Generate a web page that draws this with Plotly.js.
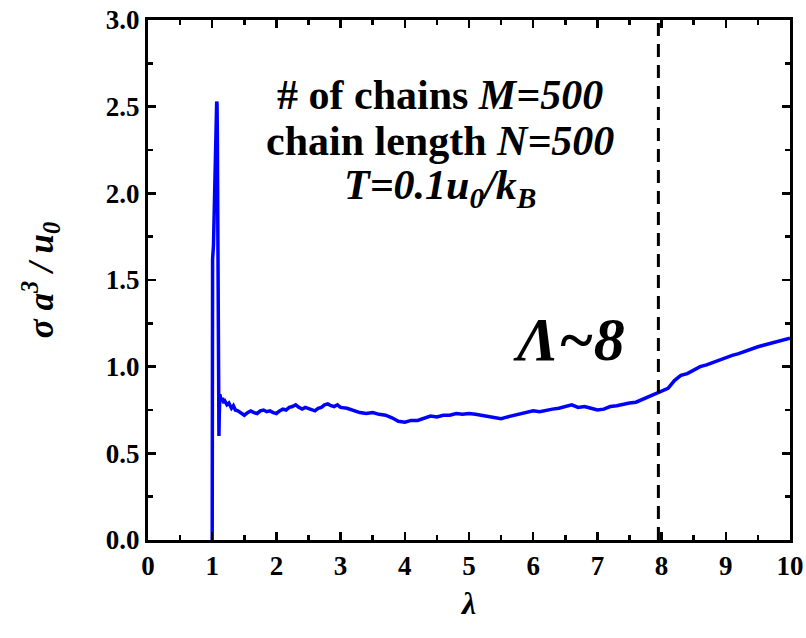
<!DOCTYPE html>
<html>
<head>
<meta charset="utf-8">
<script src="https://cdn.plot.ly/plotly-3.0.1.min.js"></script>
<style>html,body{margin:0;padding:0;background:#fff;}#chart{width:806px;height:638px;}</style>
</head>
<body>
<div id="chart"></div>
<script>
// lambda values (x) and sigma a^3/u0 values (y)
const lambda = [
  1.00, 1.003, 1.006, 1.02, 1.04, 1.06, 1.07, 1.075, 1.08, 1.085, 1.09, 1.095, 1.10, 1.105, 1.11, 1.12,
  1.14, 1.16, 1.18, 1.20, 1.23, 1.26, 1.30, 1.33, 1.36, 1.40, 1.45, 1.50, 1.55, 1.60, 1.65, 1.70,
  1.75, 1.80, 1.85, 1.90, 1.95, 2.00, 2.05, 2.10, 2.15, 2.20, 2.25, 2.30, 2.35, 2.40, 2.45, 2.50,
  2.55, 2.60, 2.65, 2.70, 2.75, 2.80, 2.85, 2.90, 2.95, 3.00, 3.1, 3.2, 3.3, 3.4, 3.5, 3.6, 3.7,
  3.8, 3.9, 4.0, 4.1, 4.2, 4.3, 4.4, 4.5, 4.6, 4.7, 4.8, 4.9, 5.0, 5.1, 5.2, 5.3, 5.4, 5.5, 5.6,
  5.7, 5.8, 5.9, 6.0, 6.1, 6.2, 6.3, 6.4, 6.5, 6.6, 6.7, 6.8, 6.9, 7.0, 7.1, 7.2, 7.3, 7.4, 7.5,
  7.6, 7.7, 7.8, 7.9, 8.0, 8.1, 8.2, 8.3, 8.4, 8.5, 8.6, 8.7, 8.8, 8.9, 9.0, 9.1, 9.2, 9.3, 9.4,
  9.5, 9.6, 9.7, 9.8, 9.9, 10.0
];
const sigma = [
  0.00, 0.80, 1.62, 1.70, 2.05, 2.45, 2.53, 2.52, 2.35, 1.90, 1.30, 0.85, 0.62, 0.60, 0.72, 0.84,
  0.80, 0.82, 0.79, 0.80, 0.78, 0.79, 0.76, 0.775, 0.75, 0.745, 0.73, 0.72, 0.735, 0.745, 0.735, 0.73,
  0.745, 0.75, 0.74, 0.745, 0.735, 0.73, 0.745, 0.755, 0.75, 0.765, 0.77, 0.78, 0.765, 0.755, 0.765, 0.76,
  0.75, 0.745, 0.76, 0.765, 0.78, 0.785, 0.775, 0.77, 0.78, 0.765, 0.76, 0.745, 0.735, 0.73, 0.735, 0.725, 0.72,
  0.705, 0.685, 0.68, 0.69, 0.69, 0.70, 0.715, 0.71, 0.72, 0.72, 0.73, 0.725, 0.73, 0.725, 0.72, 0.715, 0.705, 0.70, 0.71,
  0.72, 0.73, 0.74, 0.745, 0.74, 0.75, 0.755, 0.76, 0.77, 0.78, 0.765, 0.77, 0.76, 0.75, 0.755, 0.77, 0.775, 0.785, 0.79,
  0.795, 0.81, 0.825, 0.845, 0.86, 0.875, 0.92, 0.95, 0.96, 0.98, 1.00, 1.01, 1.025, 1.035, 1.05, 1.065, 1.075, 1.09, 1.10,
  1.115, 1.125, 1.135, 1.145, 1.155, 1.165
];
const xTicks = [0,1,2,3,4,5,6,7,8,9,10];
const yTicks = [0.0,0.5,1.0,1.5,2.0,2.5,3.0];
const yTickText = ["0.0","0.5","1.0","1.5","2.0","2.5","3.0"];
const crossover = 7.95;
const infoLines = ["<b># of chains <i>M=500</i></b>", "<b>chain length <i>N=500</i></b>", "<b><i>T=0.1u<sub>0</sub>/k<sub>B</sub></i></b>"];
const markLabel = "<b><i>Λ~8</i></b>";

const FONT = "Liberation Serif";

const traces = [
  {x: lambda, y: sigma, type: "scatter", mode: "lines", line: {color: "#0000ff", width: 3.5}, hoverinfo: "skip"},
  {x: [crossover, crossover], y: [0, 3], type: "scatter", mode: "lines", line: {color: "#000", width: 3, dash: "13px,8px"}, hoverinfo: "skip"}
];

const axisCommon = {
  showline: true, linecolor: "#000", linewidth: 3, mirror: "allticks",
  ticks: "inside", ticklen: 8, tickwidth: 2.5, tickcolor: "#000",
  showgrid: false, zeroline: false,
  tickfont: {family: FONT, size: 27, color: "#000", weight: "bold"}
};

const layout = {
  width: 806, height: 638,
  margin: {l: 148, r: 16, t: 20, b: 98},
  paper_bgcolor: "#fff", plot_bgcolor: "#fff",
  showlegend: false,
  font: {family: FONT, color: "#000"},
  xaxis: Object.assign({}, axisCommon, {
    range: [0, 10], tickvals: xTicks, ticktext: xTicks.map(String),
    minor: {dtick: 0.5, tick0: 0, ticks: "inside", ticklen: 5, tickwidth: 2.5, tickcolor: "#000"},
    title: {text: "<b><i>λ</i></b>", font: {family: FONT, size: 32, color: "#000"}, standoff: 12}
  }),
  yaxis: Object.assign({}, axisCommon, {
    range: [0, 3], tickvals: yTicks, ticktext: yTickText,
    minor: {dtick: 0.25, tick0: 0, ticks: "inside", ticklen: 5, tickwidth: 2.5, tickcolor: "#000"},
    title: {text: "<b><i>σ a<sup>3</sup> / u<sub>0</sub></i></b>", font: {family: FONT, size: 35, color: "#000"}, standoff: 42}
  }),
  annotations: [
    {x: 4.55, y: 2.57, xref: "x", yref: "y", text: infoLines[0], showarrow: false, font: {family: FONT, size: 42, color: "#000"}},
    {x: 4.55, y: 2.30, xref: "x", yref: "y", text: infoLines[1], showarrow: false, font: {family: FONT, size: 42, color: "#000"}},
    {x: 4.55, y: 2.03, xref: "x", yref: "y", text: infoLines[2], showarrow: false, font: {family: FONT, size: 42, color: "#000"}},
    {x: 6.55, y: 1.16, xref: "x", yref: "y", text: markLabel, showarrow: false, font: {family: FONT, size: 62, color: "#000"}}
  ]
};

Plotly.newPlot("chart", traces, layout, {staticPlot: true, displayModeBar: false});
</script>
</body>
</html>
